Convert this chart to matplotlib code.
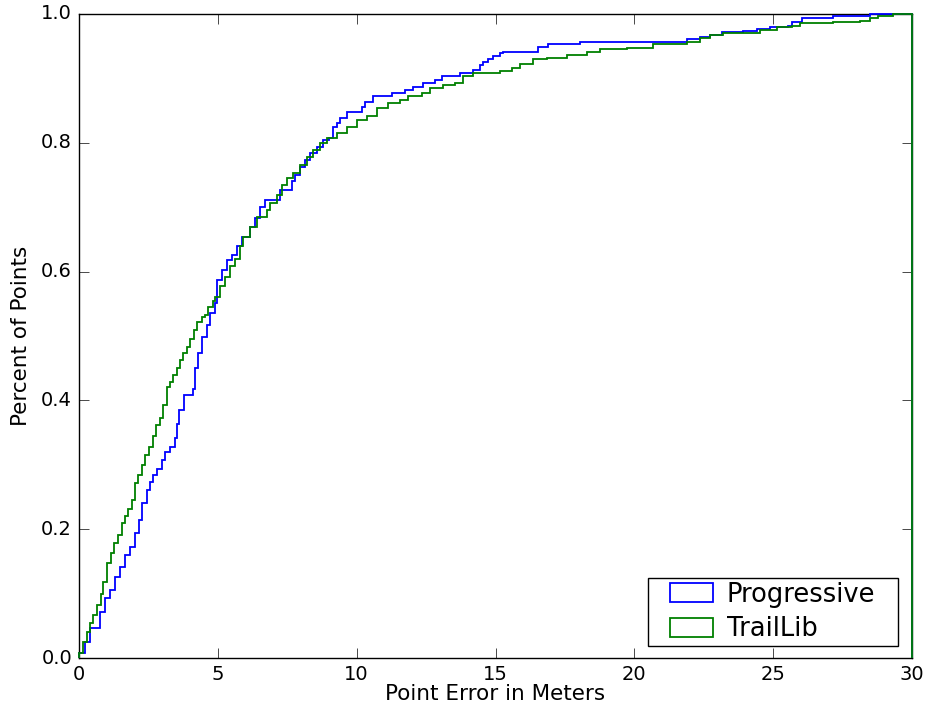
import matplotlib
matplotlib.use('Agg')
from matplotlib import pyplot as plt
from matplotlib.patches import Patch
from matplotlib.path import Path

# cumulative fraction of points (step position -> level after step)
prog_x = [0, 0.22, 0.40, 0.76, 0.94, 1.12, 1.30, 1.48, 1.66, 1.82,
          2.02, 2.17, 2.26, 2.44, 2.56, 2.68, 2.82, 2.98, 3.10, 3.28,
          3.46, 3.54, 3.60, 3.78, 4.12, 4.18, 4.30, 4.42, 4.60, 4.72,
          4.90, 4.96, 5.14, 5.32, 5.50, 5.68, 5.86, 6.16, 6.34, 6.52,
          6.70, 7.24, 7.66, 7.78, 7.96, 8.14, 8.32, 8.56, 8.80, 9.00,
          9.16, 9.28, 9.40, 9.64, 10.20, 10.30, 10.60, 11.26, 11.74, 12.04,
          12.40, 12.82, 13.06, 13.72, 14.20, 14.44, 14.56, 14.74, 14.92, 15.16,
          15.28, 16.54, 16.90, 18.04, 21.88, 22.36, 22.72, 23.14, 23.92, 24.40,
          24.88, 25.54, 25.66, 26.02, 27.16, 28.50]
prog_y = [0.008, 0.025, 0.046, 0.072, 0.093, 0.106, 0.126, 0.142, 0.160, 0.172,
          0.194, 0.214, 0.240, 0.261, 0.274, 0.284, 0.294, 0.307, 0.320, 0.328,
          0.341, 0.364, 0.385, 0.408, 0.418, 0.450, 0.473, 0.499, 0.517, 0.535,
          0.551, 0.587, 0.602, 0.618, 0.626, 0.639, 0.654, 0.670, 0.683, 0.701,
          0.711, 0.727, 0.740, 0.750, 0.763, 0.773, 0.784, 0.794, 0.804, 0.807,
          0.825, 0.830, 0.838, 0.848, 0.856, 0.864, 0.872, 0.877, 0.882, 0.887,
          0.893, 0.898, 0.903, 0.908, 0.913, 0.921, 0.926, 0.930, 0.934, 0.939,
          0.941, 0.948, 0.954, 0.957, 0.961, 0.964, 0.967, 0.972, 0.974, 0.976,
          0.979, 0.982, 0.988, 0.993, 0.997, 1.0]

trail_x = [0, 0.13, 0.28, 0.40, 0.49, 0.64, 0.78, 0.88, 1.00, 1.14,
           1.26, 1.42, 1.54, 1.66, 1.78, 1.90, 2.02, 2.14, 2.26, 2.38,
           2.52, 2.65, 2.77, 2.92, 3.01, 3.16, 3.28, 3.40, 3.54, 3.64,
           3.76, 3.88, 4.00, 4.14, 4.26, 4.42, 4.54, 4.66, 4.84, 4.90,
           5.08, 5.26, 5.44, 5.62, 5.80, 5.92, 6.16, 6.40, 6.76, 6.88,
           7.12, 7.30, 7.48, 7.72, 7.96, 8.20, 8.44, 8.68, 8.92, 9.28,
           9.64, 10.00, 10.36, 10.72, 11.14, 11.56, 11.86, 12.34, 12.64, 13.12,
           13.54, 13.84, 14.20, 15.16, 15.58, 15.88, 16.36, 16.84, 17.56, 18.28,
           18.76, 19.72, 20.68, 21.88, 22.36, 22.72, 23.20, 23.92, 24.52, 25.12,
           25.66, 25.96, 27.16, 28.12, 28.48, 28.78, 29.32]
trail_y = [0.008, 0.025, 0.041, 0.054, 0.067, 0.082, 0.100, 0.118, 0.147, 0.163,
           0.178, 0.191, 0.209, 0.220, 0.232, 0.245, 0.271, 0.284, 0.300, 0.315,
           0.328, 0.344, 0.362, 0.372, 0.393, 0.421, 0.429, 0.439, 0.450, 0.463,
           0.473, 0.483, 0.496, 0.509, 0.522, 0.530, 0.532, 0.545, 0.555, 0.561,
           0.577, 0.592, 0.608, 0.620, 0.639, 0.654, 0.670, 0.685, 0.696, 0.706,
           0.719, 0.734, 0.745, 0.753, 0.766, 0.778, 0.789, 0.799, 0.807, 0.815,
           0.825, 0.835, 0.841, 0.854, 0.861, 0.866, 0.872, 0.878, 0.885, 0.890,
           0.893, 0.903, 0.908, 0.911, 0.916, 0.923, 0.930, 0.931, 0.936, 0.941,
           0.945, 0.947, 0.953, 0.957, 0.962, 0.967, 0.970, 0.971, 0.975, 0.979,
           0.982, 0.986, 0.987, 0.989, 0.993, 0.997, 1.0]

x_max = 30
series = [('Progressive', prog_x, prog_y, 'b'),
          ('TrailLib', trail_x, trail_y, 'g')]


class WideSquare:
    """square legend frame with extra horizontal padding (in fontsize units)"""
    def __init__(self, padx):
        self.padx = padx

    def __call__(self, x0, y0, width, height, mutation_size):
        px = self.padx * mutation_size
        x0, x1 = x0 - px, x0 + width + px
        y1 = y0 + height
        return Path([(x0, y0), (x1, y0), (x1, y1), (x0, y1), (x0, y0)], closed=True)


plt.style.use('classic')
plt.rcParams['font.family'] = ['DejaVu Sans']

fig = plt.figure(figsize=(9.26, 7.13), dpi=100, facecolor='white')
ax = fig.add_axes([0.0853, 0.0771, 0.8996, 0.9033])

handles = []
for label, xs, ys, color in series:
    # step outline closes down to zero at both ends, like a cumulative step histogram
    ax.stairs(ys, xs + [x_max], baseline=0, fill=False,
              color=color, linewidth=1.3, clip_on=False, zorder=3)
    handles.append(Patch(facecolor='white', edgecolor=color, linewidth=1.3, label=label))

ax.set_xlim(0, x_max)
ax.set_ylim(0, 1.0)
ax.tick_params(labelsize=14, length=7, pad=5)
ax.set_xlabel('Point Error in Meters', fontsize=15.5, labelpad=0)
ax.set_ylabel('Percent of Points', fontsize=15.5, labelpad=7)
lgd = ax.legend(handles=handles, loc='lower right', bbox_to_anchor=(0.9604, 0.0186),
                borderaxespad=0, fontsize=18.5,
                handlelength=1.65, handleheight=0.75, labelspacing=0.33,
                handletextpad=0.55, borderpad=0.15)
lgd.get_frame().set_boxstyle(WideSquare(0.72))

fig.savefig('out.png', dpi=100, facecolor='white')
